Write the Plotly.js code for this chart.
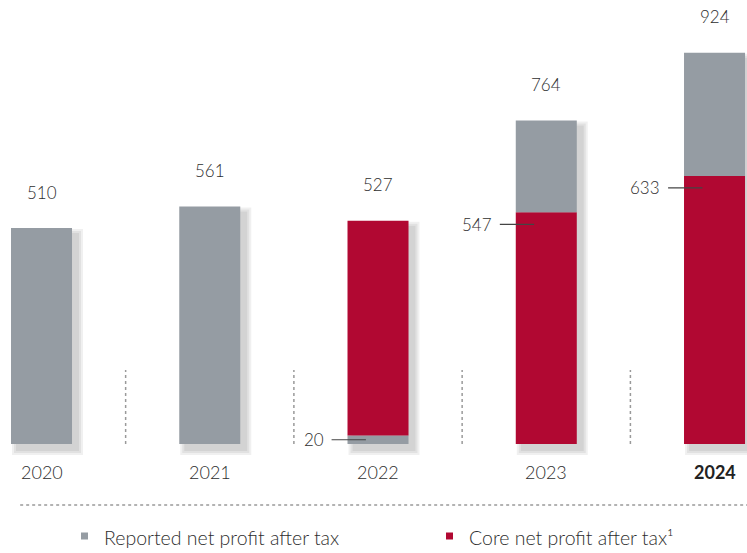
<!DOCTYPE html>
<html>
<head>
<meta charset="utf-8">
<script src="https://cdn.plot.ly/plotly-3.0.1.min.js"></script>
<style>
  html, body { margin: 0; padding: 0; background: #fff; }
  #chart { width: 747px; height: 553px; }
</style>
</head>
<body>
<div id="chart"></div>
<script>
// values (EUR m)
const years = ['2020', '2021', '2022', '2023', '2024'];
const reported = [510, 561, 527, 764, 924];
const core = [null, null, 507, 547, 633];
// in 2022 the reported-only part sits below the core part
const gapBelow = [false, false, true, false, false];

const GREY = '#959ca3';
const RED = '#b10832';
const TXT = '#2e2e2e';
const FONT = 'Lato, "Open Sans", sans-serif';

// plot area bottom is below the baseline so the bar shadows are not clipped
const PLOT_BOTTOM = 472;
const BASELINE = 444;
const pxPerUnit = 0.4235;
const xRange = [-0.2467, 4.193];
const pxPerCat = 747 / (xRange[1] - xRange[0]);

const diff = years.map((y, i) => core[i] == null ? null : reported[i] - core[i]);

// segments with explicit bases (overlay mode)
const greyBase = years.map((y, i) => core[i] == null ? reported[i] : (gapBelow[i] ? diff[i] : null));
const redBase = years.map((y, i) => gapBelow[i] ? diff[i] : 0);
const greyTop = years.map((y, i) => core[i] != null && !gapBelow[i] ? diff[i] : null);
const greyTopBase = years.map((y, i) => core[i] == null ? 0 : core[i]);

const barW = 0.3626;
const traces = [];

// soft drop shadow to the lower right: widening translucent layers
const dx = 6, dy = 6;
[1, 3, 5].forEach(s => {
    const w = barW + 2 * s / pxPerCat;
    traces.push({
        x: years, y: reported.map(v => v + 2 * s / pxPerUnit),
        base: years.map(() => -(dy + s) / pxPerUnit),
        type: 'bar', width: w, offset: -w / 2 + dx / pxPerCat,
        marker: { color: 'rgba(0,0,0,0.06)', line: { width: 0 } }, hoverinfo: 'skip'
    });
});

traces.push(
    { x: years, y: greyBase, base: years.map(() => 0), type: 'bar', marker: { color: GREY, line: { width: 0 } }, width: barW, hoverinfo: 'skip' },
    { x: years, y: core, base: redBase, type: 'bar', marker: { color: RED, line: { width: 0 } }, width: barW, hoverinfo: 'skip' },
    { x: years, y: greyTop, base: greyTopBase, type: 'bar', marker: { color: GREY, line: { width: 0 } }, width: barW, hoverinfo: 'skip' }
);

const annotations = [];
const shapes = [];

years.forEach((y, i) => {
    // totals above the bars
    annotations.push({
        x: i, y: reported[i], text: String(reported[i]), showarrow: false,
        yanchor: 'middle', yshift: 36, font: { family: FONT, size: 17, color: TXT, weight: 300 }
    });
    // year labels under the baseline
    const last = i === years.length - 1;
    annotations.push({
        x: i, y: 0, text: last ? '<b>' + y + '</b>' : y, showarrow: false,
        yanchor: 'middle', yshift: -28,
        font: { family: FONT, size: 18, color: last ? '#222' : TXT, weight: last ? 700 : 300 }
    });
});

// leader labels on the left of stacked bars
years.forEach((y, i) => {
    if (core[i] == null) return;
    let val, yPos, shift;
    if (gapBelow[i]) {
        val = diff[i]; yPos = diff[i] / 2; shift = 0;
    } else {
        val = core[i]; yPos = core[i]; shift = -12;
    }
    annotations.push({
        x: i - 0.31, y: yPos, text: String(val), showarrow: false,
        xanchor: 'right', yanchor: 'middle', yshift: shift,
        font: { family: FONT, size: 17, color: TXT, weight: 300 }
    });
    shapes.push({
        type: 'line', xref: 'x', yref: 'y', ysizemode: 'pixel', yanchor: yPos,
        x0: i - 0.276, x1: i - 0.072, y0: shift, y1: shift,
        line: { color: '#444', width: 1.2 }, layer: 'above'
    });
});

// dotted separators between years
for (let i = 0; i < years.length - 1; i++) {
    shapes.push({
        type: 'line', xref: 'x', yref: 'y', ysizemode: 'pixel', yanchor: 0,
        x0: i + 0.5, x1: i + 0.5, y0: 0, y1: 74,
        line: { color: '#9a9a9a', width: 1.5, dash: 'dot' }
    });
}

// pixel offset from the plot bottom (paper y = 0)
const py = pix => PLOT_BOTTOM - pix;

// dotted rule above legend
shapes.push({
    type: 'line', xref: 'paper', yref: 'paper', ysizemode: 'pixel', yanchor: 0,
    x0: 0.027, x1: 1, y0: py(505), y1: py(505),
    line: { color: '#9a9a9a', width: 1.5, dash: 'dot' }
});

// legend squares and text
const legendItems = [
    { color: GREY, text: 'Reported net profit after tax', sx: 81 },
    { color: RED, text: 'Core net profit after tax¹', sx: 446 }
];
legendItems.forEach(it => {
    shapes.push({
        type: 'rect', xref: 'paper', yref: 'paper', xsizemode: 'pixel', ysizemode: 'pixel',
        xanchor: 0, yanchor: 0, x0: it.sx, x1: it.sx + 7, y0: py(536) + 3.5, y1: py(536) - 3.5,
        fillcolor: it.color, line: { width: 0 }
    });
    annotations.push({
        xref: 'paper', yref: 'paper', x: 0, y: 0, xanchor: 'left', yanchor: 'middle',
        xshift: it.sx + 21, yshift: py(537), text: it.text, showarrow: false,
        font: { family: FONT, size: 19.5, color: TXT, weight: 300 }
    });
});

const yMin = -(PLOT_BOTTOM - BASELINE) / pxPerUnit;
const yMax = (BASELINE - 20) / pxPerUnit;

const layout = {
    width: 747, height: 553,
    margin: { l: 0, r: 0, t: 20, b: 553 - PLOT_BOTTOM },
    paper_bgcolor: '#fff', plot_bgcolor: 'rgba(0,0,0,0)',
    showlegend: false,
    barmode: 'overlay',
    xaxis: {
        type: 'category', range: xRange,
        showticklabels: false, ticks: '', showgrid: false, zeroline: false, showline: false,
        fixedrange: true
    },
    yaxis: { range: [yMin, yMax], visible: false, zeroline: false, fixedrange: true },
    annotations: annotations,
    shapes: shapes
};

Plotly.newPlot('chart', traces, layout, { staticPlot: true });
</script>
</body>
</html>
